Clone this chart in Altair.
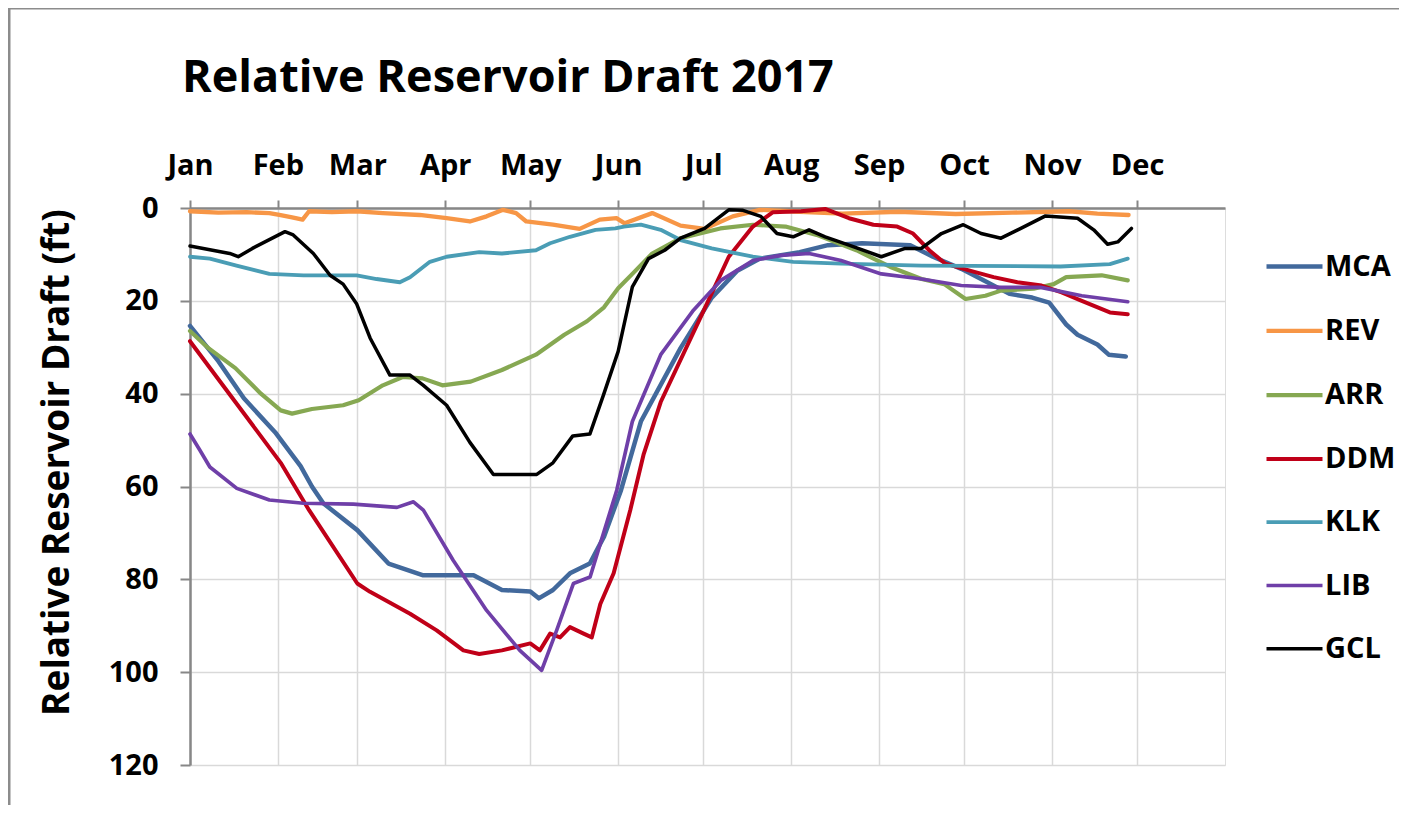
import altair as alt
import pandas as pd

TITLE = "Relative Reservoir Draft 2017"
SERIES = ["MCA", "REV", "ARR", "DDM", "KLK", "LIB", "GCL"]
COLORS = ["#42699c", "#f79646", "#86a852", "#c00018", "#4a9db5", "#6f3fa8", "#000000"]
WIDTHS = [4.5, 3.5, 3.5, 4.5, 4.5, 2.2, 2.6]

MONTHS = ["Jan", "Feb", "Mar", "Apr", "May", "Jun", "Jul", "Aug", "Sep", "Oct", "Nov", "Dec"]
MONTH_START = [0, 31, 59, 90, 120, 151, 181, 212, 243, 273, 304, 334]
Y_TICKS = [0, 20, 40, 60, 80, 100, 120]

MCA_DAY = [0, 10, 19, 30, 39, 43, 47, 59, 70, 82, 95, 100, 110, 120, 123, 128, 134, 141, 146, 152,
           159, 173, 184, 193, 201, 215, 225, 237, 254, 262, 272, 280, 289, 297, 303, 309, 313, 320, 324, 330]
MCA_FT = [25.4, 33, 41, 48.3, 55.6, 60, 63.6, 69.4, 76.6, 79.1, 79.1, 79.1, 82.3, 82.6, 84.1, 82.3, 78.7, 76.6, 70.8, 60.8,
          46, 30.2, 19.3, 13.5, 10.9, 9.5, 8, 7.6, 8, 10.5, 13.1, 15.6, 18.5, 19.3, 20.4, 25.1, 27.3, 29.4, 31.6, 32]

REV_DAY = [0, 10, 20, 28, 31.5, 36, 39.7, 42, 50, 58.8, 68, 81, 90.5, 98.7, 104.6, 110.4, 115, 118.6, 128, 137.4,
           144.5, 150.4, 153.3, 163, 173, 181.5, 191.4, 201, 215, 230, 250, 270, 290, 310, 320, 331]
REV_FT = [0.7, 1.0, 0.9, 1.1, 1.5, 2.0, 2.5, 0.7, 0.9, 0.7, 1.1, 1.5, 2.2, 2.9, 1.8, 0.4, 1.1, 2.9, 3.6, 4.5,
          2.5, 2.2, 3.3, 1.1, 3.8, 4.5, 1.8, 0.4, 0.8, 1.2, 0.8, 1.3, 1.0, 0.7, 1.2, 1.5]

ARR_DAY = [0, 6.5, 16, 25, 32, 36, 43, 54, 59.5, 68, 75, 82, 89, 99, 110, 122, 132, 140, 146, 151,
           156, 163, 173, 187, 198.5, 210, 221, 235, 247, 258, 266, 273.5, 280.5, 286, 297.5, 304.6, 309, 321.5, 330.7]
ARR_FT = [26.5, 30.2, 34.5, 40, 43.6, 44.3, 43.3, 42.5, 41.4, 38.2, 36.4, 36.7, 38.2, 37.4, 34.9, 31.6, 27.3, 24.4, 21.4, 17.3,
          14.2, 9.8, 6.5, 4.4, 3.6, 4, 5.8, 9.1, 12.7, 15.3, 16.4, 19.6, 18.9, 17.8, 17.4, 16.4, 14.9, 14.5, 15.6]

DDM_DAY = [0, 16, 32, 42, 59, 63.5, 77.6, 87, 96.4, 102, 110, 120, 123.4, 127, 130.5, 134, 138.8, 141.7, 144.7, 149.4,
           155.3, 160, 166, 180, 190, 198.5, 205.6, 215.5, 224, 232.4, 241, 249.4, 255, 260.7, 266.4, 275, 283.4,
           291.8, 300.3, 307.4, 314.5, 324.4, 330.7]
DDM_FT = [28.7, 41.8, 54.9, 65.1, 80.9, 82.7, 87.4, 91, 95.3, 96.1, 95.3, 93.8, 95.3, 91.7, 92.5, 90.3, 91.7, 92.5, 85.3, 78.7,
          65, 53, 41.8, 23.6, 10.5, 4, 0.9, 0.7, 0.2, 2.2, 3.6, 4, 5.5, 9.1, 12, 13.5, 14.9,
          16, 16.7, 18.2, 20, 22.5, 22.9]

KLK_DAY = [0, 7, 16.4, 28, 40, 58.8, 65.8, 74, 77.6, 84.6, 90.5, 102, 110, 122, 127, 134, 143, 150, 153, 159,
           166, 173, 184, 198.5, 212.7, 229.6, 258, 307, 324.4, 330.7]
KLK_FT = [10.5, 10.9, 12.4, 14.2, 14.5, 14.5, 15.3, 16, 14.9, 11.6, 10.5, 9.5, 9.8, 9.1, 7.6, 6.2, 4.7, 4.4, 4, 3.6,
          4.7, 6.9, 8.7, 10.5, 11.6, 12, 12.4, 12.6, 12.1, 10.9]

LIB_DAY = [0, 3.5, 7, 16.5, 28, 40, 57.6, 73, 78.8, 82.3, 92.8, 104.6, 116.3, 124, 129.3, 135.2, 141.1, 144.7, 150.5, 156,
           166, 177.3, 187.2, 198.5, 208.4, 218.3, 229.6, 243.8, 258, 272, 286, 300, 314.5, 330.7]
LIB_FT = [48.7, 52.2, 55.8, 60.4, 62.9, 63.6, 63.8, 64.5, 63.3, 65.1, 75.9, 86.7, 95.3, 99.6, 91, 80.9, 79.5, 72.3, 60.8, 46,
          31.6, 22.2, 15.6, 11.3, 10.2, 9.8, 11.3, 14.2, 15.3, 16.7, 17.1, 17.1, 18.9, 20.2]

GCL_DAY = [0, 14, 17, 22, 33.5, 36.4, 43.5, 49.4, 54, 58.8, 63.5, 70.5, 77.6, 82.3, 90.5, 98.7, 107, 122.3, 128, 135,
           141, 145.8, 151, 156, 161.7, 167.4, 173, 181.5, 190, 195, 201.3, 207, 212.7, 218.3, 224, 232.4, 243.8,
           252.2, 257.9, 265, 272.7, 279, 286, 293, 301.7, 313, 318.7, 323.6, 327.2, 332]
GCL_FT = [8.2, 9.8, 10.5, 8.7, 5.1, 5.8, 9.8, 14.5, 16.4, 20.7, 28, 36, 36, 38.2, 42.5, 50.5, 57.4, 57.4, 54.9, 49.1,
          48.7, 40.3, 30.9, 17, 10.9, 9.1, 6.5, 4.4, 0.4, 0.5, 1.8, 5.5, 6.2, 4.7, 6.2, 8, 10.5,
          8.7, 8.7, 5.5, 3.6, 5.5, 6.5, 4.4, 1.7, 2.2, 4.7, 7.8, 7.3, 4.4]

data_by_series = {
    "MCA": (MCA_DAY, MCA_FT), "REV": (REV_DAY, REV_FT), "ARR": (ARR_DAY, ARR_FT),
    "DDM": (DDM_DAY, DDM_FT), "KLK": (KLK_DAY, KLK_FT), "LIB": (LIB_DAY, LIB_FT),
    "GCL": (GCL_DAY, GCL_FT),
}
rows = []
for k, name in enumerate(SERIES):
    days, vals = data_by_series[name]
    for d, v in zip(days, vals):
        rows.append({"series": name, "day": d, "draft": v, "z": k})
df = pd.DataFrame(rows)
title_df = pd.DataFrame({"title": [TITLE]})

FONT = "Open Sans"
GRAY = "#878787"

label_expr = "[" + ",".join("'%s'" % m for m in MONTHS) + "][indexof([" + \
    ",".join(str(v) for v in MONTH_START) + "], datum.value)]"

lines = alt.Chart(df).mark_line(interpolate="linear", strokeJoin="round", strokeCap="round").encode(
    x=alt.X("day:Q", scale=alt.Scale(domain=[0, 365], nice=False, zero=False),
            axis=alt.Axis(orient="top", values=MONTH_START, labelExpr=label_expr, title=None,
                          labelFont=FONT, labelFontWeight="bold", labelFontSize=29, labelColor="#000000",
                          labelPadding=20, tickSize=8, tickColor=GRAY, tickWidth=2,
                          domainColor=GRAY, domainWidth=2.5, grid=True, gridColor="#d9d9d9", gridWidth=1.5,
                          labelFlush=False, labelOverlap=False)),
    y=alt.Y("draft:Q", scale=alt.Scale(domain=[0, 120], reverse=True, nice=False),
            axis=alt.Axis(values=Y_TICKS, title="Relative Reservoir Draft (ft)",
                          labelFont=FONT, labelFontWeight="bold", labelFontSize=29, labelColor="#000000",
                          labelPadding=22, tickSize=10, tickColor=GRAY, tickWidth=2,
                          domainColor=GRAY, domainWidth=2.5, grid=True, gridColor="#d9d9d9", gridWidth=1.5,
                          titleFont=FONT, titleFontWeight="bold", titleFontSize=37, titleColor="#000000",
                          titleX=-133, titleY=254, titleAlign="center", titleBaseline="middle", titleAngle=-90)),
    color=alt.Color("series:N", scale=alt.Scale(domain=SERIES, range=COLORS),
                    legend=alt.Legend(title=None, orient="none", legendX=1074, legendY=28,
                                      symbolType="stroke", symbolSize=3136, symbolStrokeWidth=4.5,
                                      labelFont=FONT, labelFontWeight="bold", labelFontSize=29,
                                      labelColor="#000000", labelOffset=0, rowPadding=18.3, padding=0)),
    strokeWidth=alt.StrokeWidth("series:N", scale=alt.Scale(domain=SERIES, range=WIDTHS), legend=None),
    order=alt.Order("z:Q"),
)

title_text = alt.Chart(title_df).mark_text(
    align="left", baseline="alphabetic", font=FONT, fontWeight="bold", fontSize=45, color="#000000"
).encode(text="title:N", x=alt.value(-8), y=alt.value(-116))

outer_left = alt.Chart(title_df).mark_rule(color="#8c8c8c", strokeWidth=3).encode(
    x=alt.value(-181), y=alt.value(-201), y2=alt.value(610))
outer_top = alt.Chart(title_df).mark_rule(color="#8c8c8c", strokeWidth=3).encode(
    x=alt.value(-181), x2=alt.value(1209), y=alt.value(-200))

chart = alt.layer(lines, title_text, outer_left, outer_top).properties(
    width=1035, height=557,
    padding={"left": 182, "top": 200, "right": 174, "bottom": 40},
    autosize=alt.AutoSizeParams(type="none"),
).configure_view(stroke=GRAY, strokeWidth=2.5).configure(background="white")

chart.save("out.html", embed_options={"renderer": "svg", "actions": False})
